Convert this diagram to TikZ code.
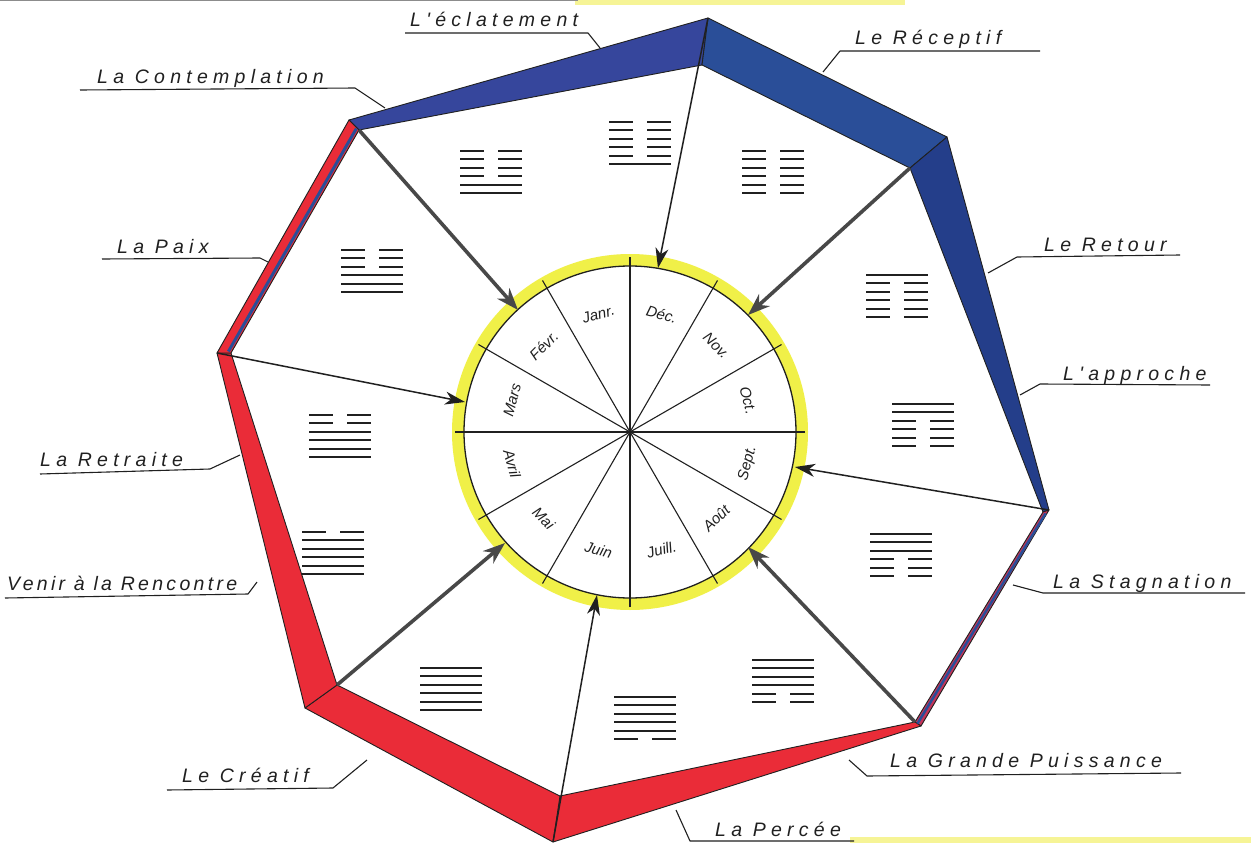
\documentclass[tikz,border=0pt]{standalone}
\usepackage{fontspec}
\setmainfont{Liberation Sans}
\newfontfamily\handfont[LetterSpace=27]{Liberation Sans}
\newfontfamily\tighthand[LetterSpace=17]{Liberation Sans}
\newfontfamily\monthfont{Liberation Sans}
\usetikzlibrary{arrows.meta,calc}
\definecolor{bandblue}{RGB}{42,78,152}
\definecolor{bandnavy}{RGB}{36,62,138}
\definecolor{bandpurple}{RGB}{54,70,156}
\definecolor{bandred}{RGB}{234,44,56}
\definecolor{bandmix}{RGB}{196,52,88}
\definecolor{ringyellow}{RGB}{240,240,72}
\definecolor{arrowgray}{RGB}{72,72,72}
\definecolor{ink}{RGB}{32,32,32}
\definecolor{scanyellow}{RGB}{246,244,150}
\newcommand\hexagram[3]{%
  \foreach \v [count=\i] in {#3} {%
    \pgfmathsetmacro\yy{#2+(\i-3.5)*8.5}%
    \ifnum\v=1
      \draw[hexline] (#1-31,\yy) -- (#1+31,\yy);
    \else
      \draw[hexline] (#1-31,\yy) -- (#1-7,\yy);
      \draw[hexline] (#1+7,\yy) -- (#1+31,\yy);
    \fi
  }}
\begin{document}
\begin{tikzpicture}[x=1pt,y=-1pt,
  lab/.style={font=\handfont\itshape\fontsize{19.5}{21}\selectfont, text=ink, inner sep=0pt, anchor=base west},
  tightlab/.style={font=\tighthand\itshape\fontsize{19.5}{21}\selectfont, text=ink, inner sep=0pt, anchor=base west},
  month/.style={font=\monthfont\itshape\fontsize{15}{16}\selectfont, text=ink, inner sep=0pt},
  leader/.style={draw=ink, line width=1.1pt, line join=round},
  hexline/.style={draw=ink, line width=2.1pt},
  bandedge/.style={draw=ink, line width=0.9pt, line join=round},
  thickarrow/.style={draw=arrowgray, line width=3.6pt, -{Stealth[length=22pt,width=16pt,inset=7pt]}},
  thinarrow/.style={draw=ink, line width=1.5pt, -{Stealth[length=20pt,width=13pt,inset=6pt]}},
  radial/.style={draw=ink, line width=1.1pt}]
\useasboundingbox (0,0) rectangle (1251,843);
\fill[white] (0,0) rectangle (1251,843);
% scan artefacts
\fill[scanyellow] (575,0) rectangle (905,5);
\fill[scanyellow] (850,837) rectangle (1251,843);
\fill[black!45] (0,0) rectangle (578,1.5);
% outer and inner polygon
\coordinate (O1) at (708,18);   \coordinate (I1) at (702,65);
\coordinate (O2) at (947,137);  \coordinate (I2) at (910,168);
\coordinate (O3) at (1049,510); \coordinate (I3) at (1043,512);
\coordinate (O4) at (921,726);  \coordinate (I4) at (915,722);
\coordinate (O5) at (553,842);  \coordinate (I5) at (560,796);
\coordinate (O6) at (305,708);  \coordinate (I6) at (337,685);
\coordinate (O7) at (217,353);  \coordinate (I7) at (231,353);
\coordinate (O8) at (349,120);  \coordinate (I8) at (359,130);
\foreach \a/\b/\c in {8/1/bandpurple,1/2/bandblue,2/3/bandnavy,3/4/bandmix,4/5/bandred,5/6/bandred,6/7/bandred,7/8/bandred}
  \filldraw[fill=\c, bandedge] (O\a) -- (O\b) -- (I\b) -- (I\a) -- cycle;
\draw[bandblue, line width=3pt] ($(I7)+(-2.6,-1.5)$) -- ($(I8)+(-2.6,-1.5)$);
\draw[bandblue, line width=2.5pt] ($(I3)+(2.5,1.5)$) -- ($(I4)+(2.5,1.5)$);
% hexagrams
\hexagram{491}{172}{0,0,0,0,1,1}
\hexagram{640}{143}{0,0,0,0,0,1}
\hexagram{773}{172}{0,0,0,0,0,0}
\hexagram{897}{296}{1,0,0,0,0,0}
\hexagram{923}{425}{1,1,0,0,0,0}
\hexagram{901}{555}{1,1,1,0,0,0}
\hexagram{783}{681}{1,1,1,1,0,0}
\hexagram{645}{718}{1,1,1,1,1,0}
\hexagram{451}{689}{1,1,1,1,1,1}
\hexagram{333}{553}{0,1,1,1,1,1}
\hexagram{340}{436}{0,0,1,1,1,1}
\hexagram{372}{271}{0,0,0,1,1,1}
% month wheel
\coordinate (C) at (630,432);
\draw[ringyellow, line width=12pt] (C) circle[radius=172];
\draw[ink, line width=1.3pt] (C) circle[radius=166];
\foreach \a in {0,30,60,90,120,150}
  \draw[radial] ($(C)+(\a:175)$) -- ($(C)+(\a+180:175)$);
\foreach \m/\p/\r in {D\'ec./-75/-15, Nov./-45/-45, Oct./-15/-75, Sept./15/75, Août/45/45, Juill./75/15, Juin/105/-15, Mai/135/-45, Avril/165/-75, Mars/195/75, Févr./225/45, Janr./255/15}
  \node[month, rotate=\r] at ($(C)+(\p:122)$) {\m};
% arrows
\coordinate (T1) at (658,268);
\coordinate (T2) at (748,315);
\coordinate (T3) at (795,467);
\coordinate (T4) at (748,547);
\coordinate (T5) at (597,595);
\coordinate (T6) at (505,543);
\coordinate (T7) at (465,402);
\coordinate (T8) at (518,310);
\draw[thinarrow] (O1) -- (T1);
\draw[thickarrow] (I2) -- (T2);
\draw[thinarrow] (O3) -- (T3);
\draw[thickarrow] (I4) -- (T4);
\draw[thinarrow] (O5) -- (T5);
\draw[thickarrow] (I6) -- (T6);
\draw[thinarrow] (O7) -- (T7);
\draw[thickarrow] (I8) -- (T8);
% labels
\node[lab] (L1) at (410,27) {L'éclatement};
\coordinate (L1a) at (405,33); \coordinate (L1b) at (588,33); \coordinate (L1t) at (600,48);
\draw[leader] (L1a) -- (L1b) -- (L1t);
\node[lab] (L2) at (855,45) {Le Réceptif};
\coordinate (L2a) at (1040,51); \coordinate (L2b) at (840,51); \coordinate (L2t) at (823,72);
\draw[leader] (L2a) -- (L2b) -- (L2t);
\node[lab] (L3) at (97,84) {La Contemplation};
\coordinate (L3a) at (80,90); \coordinate (L3b) at (355,88); \coordinate (L3t) at (385,108);
\draw[leader] (L3a) -- (L3b) -- (L3t);
\node[lab] (L4) at (117,253) {La Paix};
\coordinate (L4a) at (102,259); \coordinate (L4b) at (260,258); \coordinate (L4t) at (268,262);
\draw[leader] (L4a) -- (L4b) -- (L4t);
\node[lab] (L5) at (40,466) {La Retraite};
\coordinate (L5a) at (40,474); \coordinate (L5b) at (210,469); \coordinate (L5t) at (240,455);
\draw[leader] (L5a) -- (L5b) -- (L5t);
\node[tightlab] (L6) at (7,590) {Venir à la Rencontre};
\coordinate (L6a) at (5,598); \coordinate (L6b) at (248,594); \coordinate (L6t) at (257,582);
\draw[leader] (L6a) -- (L6b) -- (L6t);
\node[lab] (L7) at (182,782) {Le Créatif};
\coordinate (L7a) at (167,790); \coordinate (L7b) at (333,788); \coordinate (L7t) at (367,760);
\draw[leader] (L7a) -- (L7b) -- (L7t);
\node[lab] (L8) at (715,836) {La Percée};
\coordinate (L8a) at (854,841); \coordinate (L8b) at (690,841); \coordinate (L8t) at (676,810);
\draw[leader] (L8a) -- (L8b) -- (L8t);
\node[lab] (L9) at (890,767) {La Grande Puissance};
\coordinate (L9a) at (1181,773); \coordinate (L9b) at (867,776); \coordinate (L9t) at (849,760);
\draw[leader] (L9a) -- (L9b) -- (L9t);
\node[lab] (L10) at (1053,588) {La Stagnation};
\coordinate (L10a) at (1245,593); \coordinate (L10b) at (1043,593); \coordinate (L10t) at (1013,585);
\draw[leader] (L10a) -- (L10b) -- (L10t);
\node[lab] (L11) at (1063,380) {L'approche};
\coordinate (L11a) at (1210,385); \coordinate (L11b) at (1040,384); \coordinate (L11t) at (1020,395);
\draw[leader] (L11a) -- (L11b) -- (L11t);
\node[lab] (L12) at (1044,251) {Le Retour};
\coordinate (L12a) at (1180,255); \coordinate (L12b) at (1017,257); \coordinate (L12t) at (988,273);
\draw[leader] (L12a) -- (L12b) -- (L12t);
\end{tikzpicture}
\end{document}
